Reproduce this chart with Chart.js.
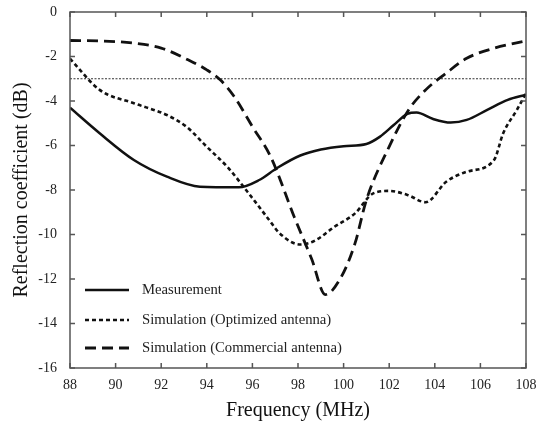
<!DOCTYPE html>
<html>
<head>
<meta charset="utf-8">
<script src="https://cdn.jsdelivr.net/npm/chart.js@4.4.1/dist/chart.umd.min.js"></script>
<style>
  html, body { margin: 0; padding: 0; background: #fff; }
  #wrap { width: 543px; height: 421px; }
</style>
</head>
<body>
<div id="wrap"><canvas id="chart" width="543" height="421"></canvas></div>
<script>
// data
const measFreq = [88, 89.3, 90.8, 92.25, 93.7, 95.4, 96.3, 97.1, 98.1, 99.0, 100.0, 101.0, 101.6, 102.2, 102.8, 103.2, 103.9, 104.7, 105.4, 106.3, 107.2, 108];
const measDb   = [-4.3, -5.45, -6.65, -7.4, -7.85, -7.88, -7.55, -7.0, -6.45, -6.18, -6.03, -5.93, -5.6, -5.08, -4.58, -4.52, -4.8, -4.97, -4.85, -4.4, -3.95, -3.72];

const optFreq = [88, 89.3, 90.8, 92.25, 93.1, 94.0, 94.9, 95.8, 96.7, 97.2, 98.1, 98.7, 99.6, 100.5, 101.3, 102.0, 102.8, 103.6, 104.5, 105.4, 106.6, 107.0, 107.6, 108];
const optDb   = [-2.1, -3.5, -4.1, -4.63, -5.15, -6.06, -6.96, -8.1, -9.3, -9.95, -10.45, -10.3, -9.65, -9.05, -8.15, -8.04, -8.22, -8.55, -7.63, -7.18, -6.65, -5.45, -4.4, -3.65];

const comFreq = [88, 89.3, 90.8, 92.0, 93.2, 94.0, 94.6, 95.2, 96.0, 96.8, 97.85, 98.6, 99.2, 99.9, 100.5, 101.0, 102.0, 102.85, 103.6, 104.5, 105.4, 106.6, 108];
const comDb   = [-1.28, -1.3, -1.4, -1.62, -2.16, -2.6, -3.06, -3.8, -5.15, -6.5, -9.25, -11.1, -12.7, -11.9, -10.4, -8.45, -6.05, -4.4, -3.5, -2.75, -2.08, -1.63, -1.3];

const refFreq = [88, 108];
const refDb = [-3, -3];

const xTicks = [88, 90, 92, 94, 96, 98, 100, 102, 104, 106, 108];
const yTicks = [0, -2, -4, -6, -8, -10, -12, -14, -16];

const seriesLabels = ["Measurement", "Simulation (Optimized antenna)", "Simulation (Commercial antenna)"];

const FONT = "'Liberation Serif', 'Times New Roman', serif";

function pts(xs, ys) {
  return xs.map((x, i) => ({ x: x, y: ys[i] }));
}

// inward ticks on all four sides + legend inside the plot
const framePlugin = {
  id: "frame",
  afterDraw(chart) {
    const ctx = chart.ctx;
    const a = chart.chartArea;
    const xs = chart.scales.x, ys = chart.scales.y;
    ctx.save();
    ctx.strokeStyle = "#555";
    ctx.lineWidth = 1.5;
    ctx.strokeRect(a.left, a.top, a.right - a.left, a.bottom - a.top);
    const len = 5;
    ctx.beginPath();
    xTicks.forEach(t => {
      const px = xs.getPixelForValue(t);
      ctx.moveTo(px, a.bottom); ctx.lineTo(px, a.bottom - len);
      ctx.moveTo(px, a.top); ctx.lineTo(px, a.top + len);
    });
    yTicks.forEach(t => {
      const py = ys.getPixelForValue(t);
      ctx.moveTo(a.left, py); ctx.lineTo(a.left + len, py);
      ctx.moveTo(a.right, py); ctx.lineTo(a.right - len, py);
    });
    ctx.stroke();

    // legend
    const rows = [290, 320, 348];
    ctx.font = "14.7px " + FONT;
    ctx.textBaseline = "middle";
    ctx.fillStyle = "#222";
    rows.forEach((ry, i) => {
      const ds = chart.data.datasets[i];
      ctx.beginPath();
      ctx.strokeStyle = ds.borderColor;
      ctx.lineWidth = ds.borderWidth;
      ctx.setLineDash(ds.borderDash || []);
      ctx.moveTo(85, ry); ctx.lineTo(129, ry);
      ctx.stroke();
      ctx.setLineDash([]);
      ctx.fillText(seriesLabels[i], 142, ry);
    });
    ctx.restore();
  }
};

new Chart(document.getElementById("chart"), {
  type: "line",
  data: {
    datasets: [
      {
        label: seriesLabels[0],
        data: pts(measFreq, measDb),
        borderColor: "#111",
        borderWidth: 2.5,
        pointRadius: 0,
        cubicInterpolationMode: "monotone",
      },
      {
        label: seriesLabels[1],
        data: pts(optFreq, optDb),
        borderColor: "#111",
        borderWidth: 2.6,
        borderDash: [4, 3],
        pointRadius: 0,
        cubicInterpolationMode: "monotone",
      },
      {
        label: seriesLabels[2],
        data: pts(comFreq, comDb),
        borderColor: "#111",
        borderWidth: 2.8,
        borderDash: [11, 6],
        pointRadius: 0,
        cubicInterpolationMode: "monotone",
      },
      {
        label: "-3 dB",
        data: pts(refFreq, refDb),
        borderColor: "#333",
        borderWidth: 1,
        borderDash: [2, 1.5],
        pointRadius: 0,
      },
    ],
  },
  options: {
    responsive: false,
    animation: false,
    layout: { padding: { left: 0, right: 17, top: 12, bottom: 0 } },
    plugins: {
      legend: { display: false },
      tooltip: { enabled: false },
    },
    scales: {
      x: {
        type: "linear",
        min: 88,
        max: 108,
        afterBuildTicks: (s) => { s.ticks = xTicks.map(v => ({ value: v })); },
        afterFit: (s) => { s.height = 53; s.paddingLeft = 0; s.paddingRight = 0; },
        grid: { drawOnChartArea: false, drawTicks: false },
        border: { display: false },
        ticks: { color: "#222", font: { family: FONT, size: 14 }, padding: 9 },
        title: {
          display: true,
          text: "Frequency (MHz)",
          color: "#111",
          font: { family: FONT, size: 20 },
          padding: { top: 0, bottom: -2 },
        },
      },
      y: {
        min: -16,
        max: 0,
        afterBuildTicks: (s) => { s.ticks = yTicks.map(v => ({ value: v })); },
        afterFit: (s) => { s.width = 70; s.paddingTop = 0; s.paddingBottom = 0; },
        grid: { drawOnChartArea: false, drawTicks: false },
        border: { display: false },
        ticks: { color: "#222", font: { family: FONT, size: 14 }, padding: 13 },
        title: {
          display: true,
          text: "Reflection coefficient (dB)",
          color: "#111",
          font: { family: FONT, size: 20 },
          padding: { top: 10, bottom: 4 },
        },
      },
    },
  },
  plugins: [framePlugin],
});
</script>
</body>
</html>
